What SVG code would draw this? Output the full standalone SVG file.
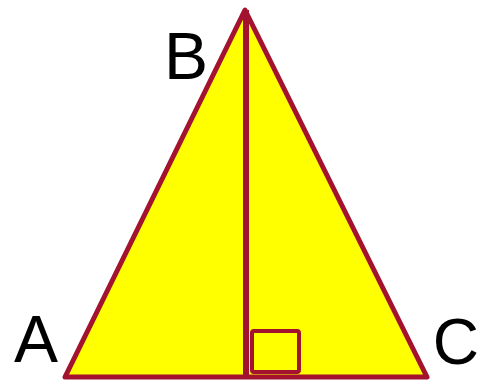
<svg xmlns="http://www.w3.org/2000/svg" width="479" height="381" viewBox="0 0 479 381">
<style>
.edge{fill:none;stroke:#a3122e;stroke-linejoin:round}
.lbl{font-family:"Liberation Sans",Arial,sans-serif;font-size:66px;fill:#000}
</style>
<rect width="479" height="381" fill="#fff"/>
<g id="triangle">
<polygon points="65,377 245,10 427,377" fill="#ffff00" stroke="#a3122e" stroke-width="5" stroke-linejoin="round"/>
</g>
<g id="connectors">
<line class="edge" x1="246" y1="10" x2="246" y2="377" stroke-width="6"/>
<rect class="edge" x="252" y="331" width="47" height="41" rx="2" stroke-width="4"/>
</g>
<g id="A"><text class="lbl" x="14" y="362">A</text></g>
<g id="B"><text class="lbl" x="164" y="79">B</text></g>
<g id="C"><text class="lbl" x="479" y="364" text-anchor="end" style="font-size:64px">C</text></g>
</svg>
